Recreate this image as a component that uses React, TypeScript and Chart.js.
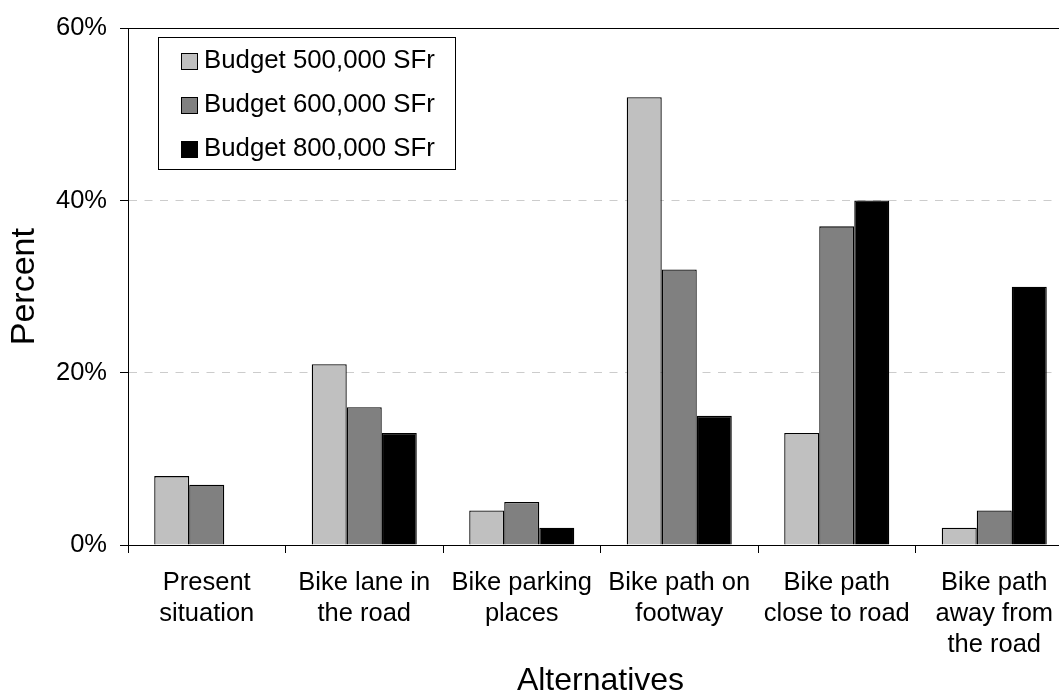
import React, { useEffect, useRef } from "react";
import { Chart, registerables } from "chart.js";

Chart.register(...registerables);

const categories: string[][] = [
  ["Present", "situation"],
  ["Bike lane in", "the road"],
  ["Bike parking", "places"],
  ["Bike path on", "footway"],
  ["Bike path", "close to road"],
  ["Bike path", "away from", "the road"],
];

const seriesLabels = ["Budget 500,000 SFr", "Budget 600,000 SFr", "Budget 800,000 SFr"];
const budget500 = [8, 21, 4, 52, 13, 2];
const budget600 = [7, 16, 5, 32, 37, 4];
const budget800 = [0, 13, 2, 15, 40, 30];
const seriesColors = ["#c0c0c0", "#808080", "#000000"];

const yMin = 0;
const yMax = 60;
const yStep = 20;

const xTitle = "Alternatives";
const yTitle = "Percent";

const FONT = "'Liberation Sans', Arial, Helvetica, sans-serif";

const boxLegend = {
  id: "boxLegend",
  afterDraw(chart: any) {
    const { ctx, chartArea } = chart;
    const x = Math.round(chartArea.left + 30);
    const y = Math.round(chartArea.top + 9);
    const w = 297;
    const h = 132;
    ctx.save();
    ctx.fillStyle = "#ffffff";
    ctx.fillRect(x, y, w, h);
    ctx.strokeStyle = "#000000";
    ctx.lineWidth = 1;
    ctx.strokeRect(x + 0.5, y + 0.5, w, h);
    ctx.font = `25.8px ${FONT}`;
    ctx.textBaseline = "middle";
    ctx.textAlign = "left";
    chart.data.datasets.forEach((ds: any, i: number) => {
      const cy = Math.round(y + 23.5 + i * 44.3);
      ctx.fillStyle = ds.backgroundColor;
      ctx.fillRect(x + 23, cy - 8, 17, 17);
      ctx.strokeStyle = "#000000";
      ctx.strokeRect(x + 23.5, cy - 7.5, 16, 16);
      ctx.fillStyle = "#000000";
      ctx.fillText(ds.label, x + 46, cy);
    });
    ctx.restore();
  },
};

export default function App() {
  const canvasRef = useRef<HTMLCanvasElement | null>(null);

  useEffect(() => {
    if (!canvasRef.current) return;
    const series = [budget500, budget600, budget800];
    const chart = new Chart(canvasRef.current, {
      type: "bar",
      data: {
        labels: categories,
        datasets: series.map((values, i) => ({
          label: seriesLabels[i],
          data: values,
          backgroundColor: seriesColors[i],
          borderColor: "#000000",
          borderWidth: 1.3,
          categoryPercentage: 0.667,
          barPercentage: 1.0,
        })),
      },
      options: {
        animation: false,
        responsive: true,
        maintainAspectRatio: false,
        devicePixelRatio: 1,
        layout: { padding: { left: 0, right: 7, top: 24, bottom: 0 } },
        plugins: {
          legend: { display: false },
          tooltip: { enabled: false },
        },
        scales: {
          x: {
            afterFit(scale: any) {
              scale.height = 155;
            },
            grid: {
              offset: true,
              drawOnChartArea: false,
              tickLength: 8,
              tickColor: "#000000",
              color: "#000000",
            },
            border: { display: true, color: "#000000", width: 1 },
            ticks: {
              color: "#000000",
              font: { family: FONT, size: 25.5, lineHeight: 1.22 },
              padding: 14.5,
              maxRotation: 0,
              autoSkip: false,
            },
            title: {
              display: true,
              text: xTitle,
              color: "#000000",
              font: { family: FONT, size: 32, lineHeight: 1.2 },
              padding: { top: 0, bottom: 0 },
            },
          },
          y: {
            min: yMin,
            max: yMax,
            afterFit(scale: any) {
              scale.width = 128;
            },
            grid: {
              color: (ctx: any) => {
                const v = ctx.tick ? ctx.tick.value : null;
                if (v === yMax) return "#000000";
                if (v === yMin) return "rgba(0,0,0,0)";
                return "#cccccc";
              },
              tickLength: 8,
              tickColor: "#000000",
              lineWidth: 1,
            },
            border: {
              display: true,
              color: "#000000",
              width: 1,
              dash: (ctx: any) => {
                const v = ctx.tick ? ctx.tick.value : null;
                if (v === null || v === yMax || v === yMin) return [];
                return [8, 7.5];
              },
            },
            ticks: {
              stepSize: yStep,
              color: "#000000",
              font: { family: FONT, size: 25.5 },
              padding: 13,
              callback: (v: any) => `${v}%`,
            },
            title: {
              display: true,
              text: yTitle,
              color: "#000000",
              font: { family: FONT, size: 34, lineHeight: 1.2 },
              padding: { top: 4, bottom: 0 },
            },
          },
        },
      },
      plugins: [boxLegend],
    } as any);
    return () => chart.destroy();
  }, []);

  return (
    <div
      style={{
        position: "fixed",
        left: 0,
        top: 0,
        width: 1059,
        height: 695,
        overflow: "hidden",
        background: "#ffffff",
      }}
    >
      <div style={{ position: "relative", width: 1080, height: 700 }}>
        <canvas ref={canvasRef} />
      </div>
    </div>
  );
}
